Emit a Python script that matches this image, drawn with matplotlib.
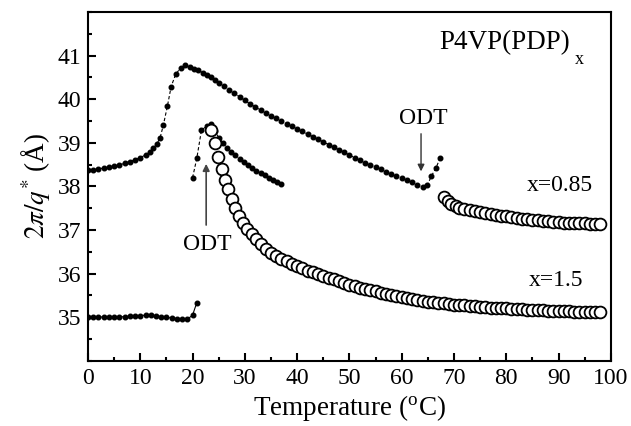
import matplotlib
matplotlib.use("Agg")
import matplotlib.pyplot as plt
from matplotlib.ticker import MultipleLocator

plt.rcParams['font.family'] = ['Liberation Serif', 'DejaVu Serif']
plt.rcParams['mathtext.fontset'] = 'stix'

# x = 0.85, ordered state (filled dots)
t_a = [0, 1, 2, 3, 4, 5, 6, 7, 8, 9, 10, 11, 11.8, 12.5, 13.2, 13.8, 14.4, 15.2, 15.9, 16.8,
       17.7, 18.6, 19.5, 20.3, 21.1, 21.9, 22.7, 23.5, 24.3, 25.1, 26, 27, 28, 29, 30, 31, 32,
       33, 34, 35, 36, 37, 38, 39, 40, 41, 42, 43, 44, 45, 46, 47, 48, 49, 50, 51, 52, 53, 54,
       55, 56, 57, 58, 59, 60, 61, 62, 63, 64, 64.9, 65.7, 66.5, 67.4]
d_a = [38.37, 38.38, 38.40, 38.42, 38.44, 38.46, 38.49, 38.53, 38.57, 38.61, 38.66, 38.72,
       38.78, 38.87, 38.98, 39.12, 39.40, 39.85, 40.29, 40.58, 40.71, 40.78, 40.74, 40.70,
       40.66, 40.61, 40.56, 40.50, 40.44, 40.37, 40.30, 40.22, 40.14, 40.05, 39.97, 39.89,
       39.82, 39.75, 39.68, 39.62, 39.56, 39.50, 39.44, 39.38, 39.32, 39.26, 39.20, 39.14,
       39.08, 39.02, 38.96, 38.90, 38.84, 38.78, 38.72, 38.66, 38.60, 38.54, 38.49, 38.44,
       38.39, 38.34, 38.29, 38.24, 38.19, 38.14, 38.09, 38.04, 37.99, 38.03, 38.24, 38.41,
       38.66]

# x = 0.85, disordered (open circles)
t_b = [68.1, 68.8, 69.5, 70.3, 71, 72, 73, 74, 75, 76, 77, 78, 79, 80, 81, 82, 83, 84, 85,
       86, 87, 88, 89, 90, 91, 92, 93, 94, 95, 96, 97, 98]
d_b = [37.76, 37.66, 37.60, 37.54, 37.51, 37.48, 37.45, 37.43, 37.41, 37.39, 37.37, 37.35,
       37.33, 37.31, 37.29, 37.28, 37.26, 37.25, 37.24, 37.22, 37.21, 37.20, 37.19, 37.18,
       37.17, 37.17, 37.16, 37.15, 37.15, 37.14, 37.14, 37.13]

# x = 1.5, low-temperature branch (filled dots)
t_c = [0, 1, 2, 3, 4, 5, 6, 7, 8, 9, 10, 11, 12, 13, 14, 15, 16, 17, 18, 19, 20, 20.8]
d_c = [35.00, 35.00, 35.01, 35.00, 35.01, 35.01, 35.01, 35.01, 35.02, 35.02, 35.03, 35.05,
       35.05, 35.03, 35.01, 35.00, 34.98, 34.97, 34.96, 34.95, 35.05, 35.33]

# x = 1.5, ordered branch above 20 C (filled dots)
t_d = [20.0, 20.8, 21.7, 22.7, 23.5, 24.2, 25, 25.8, 26.6, 27.4, 28.2, 29, 29.8, 30.6, 31.4,
       32.2, 33, 33.8, 34.6, 35.4, 36.2, 36.9]
d_d = [38.20, 38.64, 39.29, 39.38, 39.44, 39.28, 39.12, 38.99, 38.88, 38.79, 38.71, 38.63,
       38.55, 38.48, 38.42, 38.36, 38.30, 38.25, 38.20, 38.15, 38.10, 38.06]

# x = 1.5, disordered (open circles)
t_e = [23.5, 24.2, 24.9, 25.6, 26.2, 26.8, 27.5, 28.2, 28.9, 29.7, 30.5, 31.3, 32.2, 33.1, 34,
       35, 36, 37, 38, 39, 40, 41, 42, 43, 44, 45, 46, 47, 48, 49, 50, 51, 52, 53, 54, 55, 56,
       57, 58, 59, 60, 61, 62, 63, 64, 65, 66, 67, 68, 69, 70, 71, 72, 73, 74, 75, 76, 77, 78,
       79, 80, 81, 82, 83, 84, 85, 86, 87, 88, 89, 90, 91, 92, 93, 94, 95, 96, 97, 98]
d_e = [39.30, 39.00, 38.68, 38.40, 38.15, 37.93, 37.70, 37.50, 37.33, 37.17, 37.03, 36.91,
       36.79, 36.68, 36.57, 36.48, 36.40, 36.34, 36.28, 36.22, 36.17, 36.12, 36.07, 36.03,
       35.99, 35.95, 35.91, 35.87, 35.83, 35.79, 35.75, 35.72, 35.68, 35.65, 35.62, 35.59,
       35.56, 35.53, 35.50, 35.48, 35.46, 35.44, 35.42, 35.40, 35.38, 35.36, 35.35, 35.33,
       35.32, 35.30, 35.29, 35.28, 35.27, 35.26, 35.25, 35.24, 35.23, 35.22, 35.21, 35.20,
       35.20, 35.19, 35.18, 35.18, 35.17, 35.17, 35.16, 35.16, 35.15, 35.15, 35.14, 35.14,
       35.14, 35.13, 35.13, 35.13, 35.12, 35.12, 35.12]

fig = plt.figure(figsize=(6.31, 4.26), dpi=100)
ax = fig.add_axes([0.1395, 0.153, 0.8285, 0.819])

dot = dict(marker='o', ms=3.3, color='black', mfc='black', mec='black')
circ = dict(marker='o', ms=8.5, ls='none', mfc='white', mec='black', mew=1.3)

ax.plot(t_a, d_a, ls='--', lw=0.8, dashes=(3, 2), **dot)
ax.plot(t_b, d_b, **circ)
ax.plot(t_c, d_c, ls='-', lw=0.8, **dot)
ax.plot(t_d, d_d, ls='--', lw=0.8, dashes=(3, 2), **dot)
ax.plot(t_e, d_e, **circ)

ax.set_xlim(0, 100)
ax.set_ylim(34, 42)
ax.xaxis.set_major_locator(MultipleLocator(10))
ax.xaxis.set_minor_locator(MultipleLocator(5))
ax.set_yticks([35, 36, 37, 38, 39, 40, 41])
ax.yaxis.set_minor_locator(MultipleLocator(0.5))
ax.tick_params(which='both', direction='in', top=False, right=False, width=1.5, labelsize=17)
ax.tick_params(which='major', length=6, pad=5)
ax.tick_params(which='minor', length=3)
for s in ax.spines.values():
    s.set_linewidth(1.5)

ax.set_xlabel(r"Temperature ($^{\mathregular{o}}$C)", fontsize=19.5, labelpad=3)
ax.set_ylabel(r"$2\pi/q^{*}$ ($\mathregular{\AA}$)", fontsize=19.5, labelpad=4)

ax.text(79.7, 41.3, "P4VP(PDP)", fontsize=19.5, ha='center', va='center')
ax.text(94.0, 40.9, "x", fontsize=13, ha='center', va='center')
ax.text(90.2, 38.03, "x=0.85", fontsize=17, ha='center', va='center')
ax.text(89.6, 35.85, "x=1.5", fontsize=17, ha='center', va='center')
ax.text(64.1, 39.56, "ODT", fontsize=17, ha='center', va='center')
ax.text(22.8, 36.67, "ODT", fontsize=17, ha='center', va='center')

ax.annotate("", xy=(63.7, 38.28), xytext=(63.7, 39.27),
            arrowprops=dict(arrowstyle='-|>', color='#333333', lw=1.0, mutation_scale=10))
ax.annotate("", xy=(22.6, 38.58), xytext=(22.6, 37.05),
            arrowprops=dict(arrowstyle='-|>', color='#444444', lw=1.2, mutation_scale=10))

fig.savefig("out.png", dpi=100)
